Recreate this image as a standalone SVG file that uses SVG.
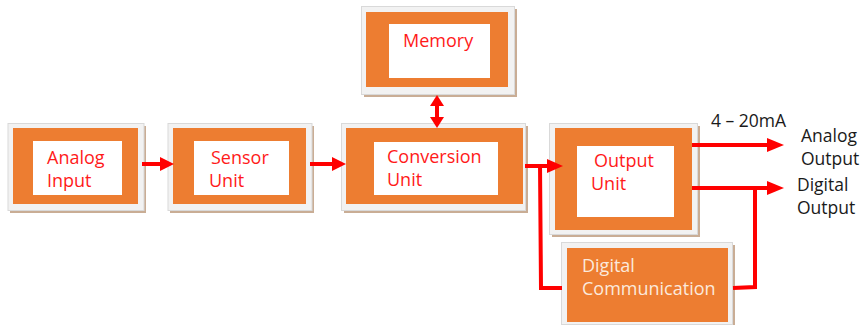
<svg xmlns="http://www.w3.org/2000/svg" width="863" height="325" viewBox="0 0 863 325">
  <style>
    .frame { fill: #f2f2f2; stroke: #d9d9d9; stroke-width: 1; }
    .shadow { fill: #c9ad95; }
    .block { fill: #ed7d31; }
    .panel { fill: #ffffff; }
    .lbl { font-family: "Open Sans", "Liberation Sans", sans-serif; font-size: 18px; fill: #ff1a1a; }
    .lbl-light { font-family: "Open Sans", "Liberation Sans", sans-serif; font-size: 18px; fill: #fbe9dc; }
    .note { font-family: "Open Sans", "Liberation Sans", sans-serif; font-size: 17.5px; fill: #1a1a1a; }
    .wire { fill: none; stroke: #ff0000; stroke-width: 4; stroke-linejoin: miter; }
    .head { fill: #ff0000; }
  </style>

  <!-- Analog Input -->
  <g id="analog-input">
    <rect class="shadow" x="10" y="126" width="136" height="87"/>
    <rect class="frame" x="8" y="123.5" width="136" height="87"/>
    <rect class="block" x="13" y="128" width="125" height="76"/>
    <rect class="panel" x="33" y="141" width="89" height="54"/>
    <text class="lbl" x="47" y="164">Analog</text>
    <text class="lbl" x="47" y="187">Input</text>
  </g>

  <!-- Sensor Unit -->
  <g id="sensor-unit">
    <rect class="shadow" x="170" y="126" width="144" height="87"/>
    <rect class="frame" x="168" y="123.5" width="144" height="87"/>
    <rect class="block" x="173" y="128" width="133" height="76"/>
    <rect class="panel" x="194" y="141" width="95" height="54"/>
    <text class="lbl" x="211" y="164">Sensor</text>
    <text class="lbl" x="209" y="187">Unit</text>
  </g>

  <!-- Memory -->
  <g id="memory">
    <rect class="shadow" x="364" y="9" width="153" height="88"/>
    <rect class="frame" x="361.5" y="6.5" width="153" height="88"/>
    <rect class="block" x="366" y="12" width="142" height="75"/>
    <rect class="panel" x="389" y="24" width="101" height="54"/>
    <text class="lbl" x="403" y="47">Memory</text>
  </g>

  <!-- Conversion Unit -->
  <g id="conversion-unit">
    <rect class="shadow" x="344" y="126" width="184" height="87"/>
    <rect class="frame" x="341.5" y="123.5" width="184" height="87"/>
    <rect class="block" x="346" y="128" width="177" height="76"/>
    <rect class="panel" x="374" y="142" width="124" height="53"/>
    <text class="lbl" x="387" y="163">Conversion</text>
    <text class="lbl" x="387" y="186">Unit</text>
  </g>

  <!-- Output Unit -->
  <g id="output-unit">
    <rect class="shadow" x="552" y="126" width="148" height="111"/>
    <rect class="frame" x="549.5" y="123.5" width="148" height="111"/>
    <rect class="block" x="555" y="128" width="137" height="102"/>
    <rect class="panel" x="577" y="146" width="97" height="71"/>
    <text class="lbl" x="594" y="167">Output</text>
    <text class="lbl" x="591" y="190">Unit</text>
  </g>

  <!-- Digital Communication -->
  <g id="digital-communication">
    <rect class="shadow" x="564" y="245" width="171" height="82"/>
    <rect class="frame" x="561.5" y="242.5" width="171" height="82"/>
    <rect class="block" x="567" y="248" width="161" height="74"/>
    <text class="lbl-light" x="582" y="272">Digital</text>
    <text class="lbl-light" x="582" y="295">Communication</text>
  </g>

  <!-- Output labels -->
  <g id="output-labels">
    <text class="note" x="711" y="127">4 – 20mA</text>
    <text class="note" x="801" y="142">Analog</text>
    <text class="note" x="801" y="165">Output</text>
    <text class="note" x="797" y="191">Digital</text>
    <text class="note" x="797" y="214">Output</text>
  </g>

  <!-- Connectors -->
  <g id="connectors">
    <!-- Analog Input -> Sensor Unit -->
    <line class="wire" x1="142" y1="164" x2="162" y2="164"/>
    <polygon class="head" points="160,157 174,164 160,171"/>
    <!-- Sensor Unit -> Conversion Unit -->
    <line class="wire" x1="310" y1="164" x2="334" y2="164"/>
    <polygon class="head" points="332,157 346,164 332,171"/>
    <!-- Memory <-> Conversion Unit -->
    <line class="wire" x1="437" y1="104" x2="437" y2="120"/>
    <polygon class="head" points="437,95 444,106 430,106"/>
    <polygon class="head" points="437,128 444,117 430,117"/>
    <!-- Conversion Unit -> Output Unit -->
    <line class="wire" x1="525" y1="166" x2="550" y2="166"/>
    <polygon class="head" points="547,159 563,166 547,173"/>
    <!-- Branch down to Digital Communication -->
    <polyline class="wire" points="540,164 541,288 562,288"/>
    <!-- Digital Communication back up to Digital Output -->
    <polyline class="wire" points="733,288 755,287 755,186"/>
    <!-- Output Unit -> Analog Output -->
    <line class="wire" x1="692" y1="145" x2="770" y2="145"/>
    <polygon class="head" points="767,138 784,145 767,152"/>
    <!-- Output Unit -> Digital Output -->
    <line class="wire" x1="692" y1="188" x2="770" y2="188"/>
    <polygon class="head" points="767,181 784,188 767,195"/>
  </g>
</svg>
